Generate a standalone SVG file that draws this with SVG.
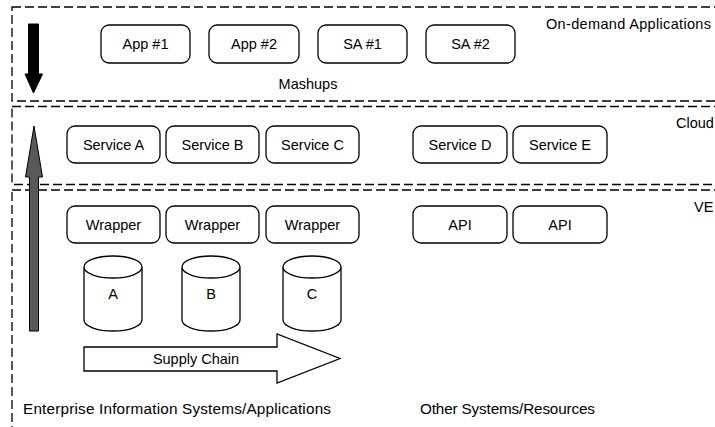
<svg xmlns="http://www.w3.org/2000/svg" width="715" height="427" viewBox="0 0 715 427">
<style>
  .layer { fill: none; stroke: #000; stroke-width: 1.3; stroke-dasharray: 9 4; }
  .box { fill: #fff; stroke: #000; stroke-width: 1.3; }
  .cyl { fill: #fff; stroke: #000; stroke-width: 1.3; }
  .t { font-family: "Liberation Sans", Arial, sans-serif; font-size: 14.5px; fill: #000; }
  .big { font-size: 15.3px; }
  .c { text-anchor: middle; }
</style>
<rect width="715" height="427" fill="#fff"/>
<g id="layers">
  <rect id="layer-ondemand" class="layer" x="12" y="7" width="740" height="94"/>
  <rect id="layer-cloud" class="layer" x="12" y="106.5" width="740" height="78"/>
  <rect id="layer-ve" class="layer" x="12" y="190" width="740" height="260"/>
  <text class="t" x="546" y="29" textLength="165">On-demand Applications</text>
  <text class="t" x="676" y="128">Cloud</text>
  <text class="t" x="694" y="212">VE</text>
  <text class="t c" x="308" y="89">Mashups</text>
  <text class="t big" x="23" y="414" textLength="308">Enterprise Information Systems/Applications</text>
  <text class="t big" x="420" y="414" textLength="175">Other Systems/Resources</text>
</g>
<g id="app1"><rect class="box" x="101" y="25" width="89" height="38" rx="8"/><text class="t c" x="145.5" y="49">App #1</text></g>
<g id="app2"><rect class="box" x="209" y="25" width="90" height="38" rx="8"/><text class="t c" x="254" y="49">App #2</text></g>
<g id="sa1"><rect class="box" x="318" y="25" width="89" height="38" rx="8"/><text class="t c" x="362.5" y="49">SA #1</text></g>
<g id="sa2"><rect class="box" x="426" y="25" width="89" height="38" rx="8"/><text class="t c" x="470.5" y="49">SA #2</text></g>
<g id="serviceA"><rect class="box" x="67" y="126" width="93" height="37" rx="8"/><text class="t c" x="113.5" y="150">Service A</text></g>
<g id="serviceB"><rect class="box" x="166" y="126" width="93" height="37" rx="8"/><text class="t c" x="212.5" y="150">Service B</text></g>
<g id="serviceC"><rect class="box" x="266" y="126" width="93" height="37" rx="8"/><text class="t c" x="312.5" y="150">Service C</text></g>
<g id="serviceD"><rect class="box" x="413" y="126" width="94" height="37" rx="8"/><text class="t c" x="460" y="150">Service D</text></g>
<g id="serviceE"><rect class="box" x="513" y="126" width="94" height="37" rx="8"/><text class="t c" x="560" y="150">Service E</text></g>
<g id="wrapper1"><rect class="box" x="67" y="206" width="93" height="37" rx="8"/><text class="t c" x="113.5" y="230">Wrapper</text></g>
<g id="wrapper2"><rect class="box" x="166" y="206" width="93" height="37" rx="8"/><text class="t c" x="212.5" y="230">Wrapper</text></g>
<g id="wrapper3"><rect class="box" x="266" y="206" width="93" height="37" rx="8"/><text class="t c" x="312.5" y="230">Wrapper</text></g>
<g id="api1"><rect class="box" x="413" y="206" width="94" height="37" rx="8"/><text class="t c" x="460" y="230">API</text></g>
<g id="api2"><rect class="box" x="513" y="206" width="94" height="37" rx="8"/><text class="t c" x="560" y="230">API</text></g>
<g id="dbA"><path class="cyl" d="M84,267 A29,11 0 0 1 142,267 V320 A29,11 0 0 1 84,320 Z M84,267 A29,11 0 0 0 142,267"/><text class="t c" x="113" y="299">A</text></g>
<g id="dbB"><path class="cyl" d="M182,267 A29,11 0 0 1 240,267 V320 A29,11 0 0 1 182,320 Z M182,267 A29,11 0 0 0 240,267"/><text class="t c" x="211" y="299">B</text></g>
<g id="dbC"><path class="cyl" d="M283,267 A29,11 0 0 1 341,267 V320 A29,11 0 0 1 283,320 Z M283,267 A29,11 0 0 0 341,267"/><text class="t c" x="312" y="299">C</text></g>
<g id="connectors">
  <polygon points="28.5,24 38.5,24 38.5,74 42.5,74 33.5,93 25,74 28.5,74" fill="#000" stroke="#000" stroke-width="1"/>
  <polygon points="34,126 42.5,177 38.5,177 38.5,331 29.5,331 29.5,177 25.5,177" fill="#595959" stroke="#000" stroke-width="1"/>
  <g id="supply-chain">
    <polygon points="84,347 277,347 277,334 340,358.5 277,383 277,371 84,371" fill="#fff" stroke="#000" stroke-width="1.3"/>
    <text class="t c" x="196" y="364">Supply Chain</text>
  </g>
</g>
</svg>
